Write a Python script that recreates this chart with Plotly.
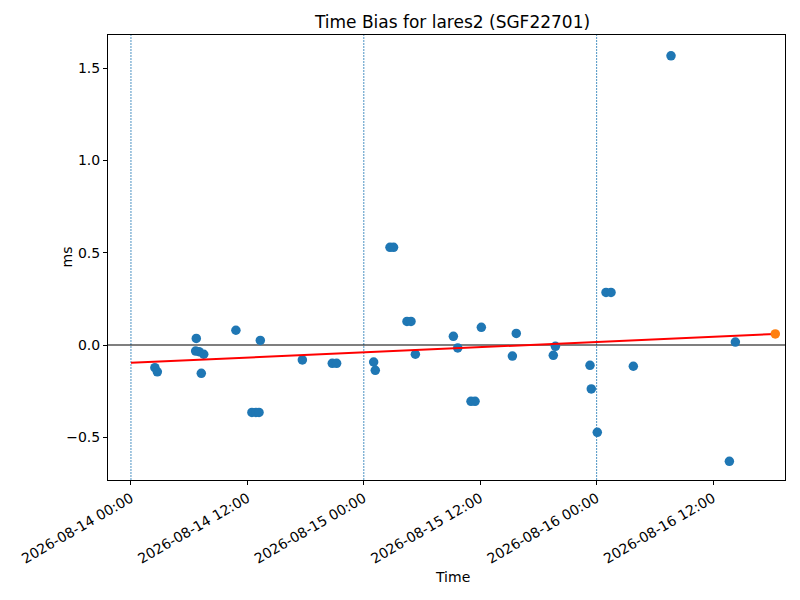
import plotly.graph_objects as go

# observed time bias points (blue)
obs_time = [
    "2026-08-14 02:28", "2026-08-14 02:43", "2026-08-14 06:44", "2026-08-14 06:40",
    "2026-08-14 07:01", "2026-08-14 07:30", "2026-08-14 07:15", "2026-08-14 10:49",
    "2026-08-14 13:20", "2026-08-14 12:28", "2026-08-14 12:53", "2026-08-14 13:12",
    "2026-08-14 17:40", "2026-08-14 20:45", "2026-08-14 21:12", "2026-08-15 01:01",
    "2026-08-15 01:11", "2026-08-15 02:42", "2026-08-15 03:04", "2026-08-15 04:27",
    "2026-08-15 04:52", "2026-08-15 05:19", "2026-08-15 09:14", "2026-08-15 09:41",
    "2026-08-15 11:03", "2026-08-15 11:28", "2026-08-15 12:07", "2026-08-15 15:19",
    "2026-08-15 15:43", "2026-08-15 19:32", "2026-08-15 19:45", "2026-08-15 23:19",
    "2026-08-15 23:27", "2026-08-16 00:04", "2026-08-16 00:58", "2026-08-16 01:29",
    "2026-08-16 03:47", "2026-08-16 07:40", "2026-08-16 13:41", "2026-08-16 14:18",
]
obs_ms = [
    -0.123, -0.145, 0.036, -0.033,
    -0.036, -0.050, -0.153, 0.080,
    0.025, -0.365, -0.365, -0.365,
    -0.081, -0.099, -0.099, -0.092,
    -0.137, 0.529, 0.529, 0.128,
    0.128, -0.050, 0.047, -0.016,
    -0.305, -0.305, 0.096, -0.060,
    0.063, -0.056, -0.007, -0.110,
    -0.238, -0.473, 0.285, 0.285,
    -0.115, 1.566, -0.630, 0.016,
]

# predicted point (orange) and linear fit (red)
pred_time = ["2026-08-16 18:25"]
pred_ms = [0.060]
fit_time = ["2026-08-14 00:00", "2026-08-16 18:25"]
fit_ms = [-0.096, 0.060]

day_lines = ["2026-08-14 00:00", "2026-08-15 00:00", "2026-08-16 00:00"]
x_ticks = ["2026-08-14 00:00", "2026-08-14 12:00", "2026-08-15 00:00",
           "2026-08-15 12:00", "2026-08-16 00:00", "2026-08-16 12:00"]
y_ticks = [-0.5, 0.0, 0.5, 1.0, 1.5]
y_labels = ["\u22120.5", "0.0", "0.5", "1.0", "1.5"]

# page body adds an 8px offset, so the figure layout is shifted to compensate
off = 8

fig = go.Figure()

for d in day_lines:
    fig.add_vline(x=d, line=dict(color="#1f77b4", width=0.8, dash="2px,1px"), layer="below")
fig.add_hline(y=0, line=dict(color="black", width=1.2), layer="below")

fig.add_trace(go.Scatter(x=obs_time, y=obs_ms, mode="markers",
                         marker=dict(color="#1f77b4", size=9.5), showlegend=False))
fig.add_trace(go.Scatter(x=fit_time, y=fit_ms, mode="lines",
                         line=dict(color="red", width=2), showlegend=False))
fig.add_trace(go.Scatter(x=pred_time, y=pred_ms, mode="markers",
                         marker=dict(color="#ff7f0e", size=9.5), showlegend=False))

axis_style = dict(showline=True, linecolor="black", linewidth=1, mirror=True,
                  ticks="outside", ticklen=4, tickcolor="black", showgrid=False,
                  zeroline=False, automargin=False,
                  tickfont=dict(size=14, color="black"))

fig.update_xaxes(range=["2026-08-13 21:38", "2026-08-16 19:25"],
                 tickvals=x_ticks, tickformat="%Y-%m-%d %H:%M", tickangle=-30,
                 **axis_style)
fig.update_yaxes(range=[-0.731, 1.679], tickvals=y_ticks, ticktext=y_labels,
                 **axis_style)

fig.update_layout(
    width=800, height=600,
    margin=dict(l=108 - off, r=15 + off, t=35 - off, b=120 + off),
    plot_bgcolor="white", paper_bgcolor="white",
    font=dict(family="DejaVu Sans", color="black", size=14),
    title=dict(text="Time Bias for lares2 (SGF22701)", x=(452.5 - off) / 800,
               xanchor="center", y=1 - (22 - off) / 600, yanchor="middle",
               font=dict(size=17)),
    annotations=[
        dict(text="Time", xref="paper", yref="paper", x=(452.5 - 108) / 677,
             y=-97 / 445, xanchor="center", yanchor="middle", showarrow=False,
             font=dict(size=14)),
        dict(text="ms", xref="paper", yref="paper", x=-42 / 677, y=0.5,
             xanchor="center", yanchor="middle", textangle=-90, showarrow=False,
             font=dict(size=14)),
    ],
)

fig.write_html("out.html")
